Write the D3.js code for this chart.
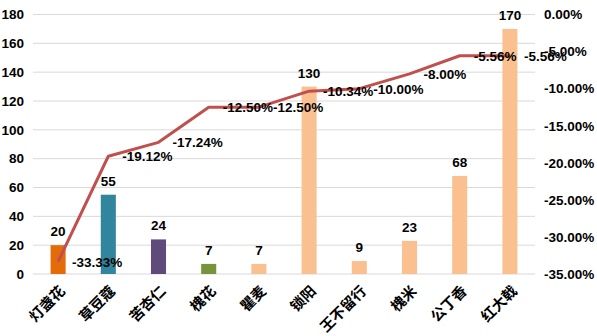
<!DOCTYPE html>
<html><head><meta charset="utf-8">
<script src="https://cdn.jsdelivr.net/npm/d3@7"></script>
<style>body{margin:0;background:#fff}svg{display:block}</style>
</head><body>
<svg id="c" width="597" height="336"></svg>
<script>
const categories = ["灯盏花","草豆蔻","苦杏仁","槐花","瞿麦","锁阳","王不留行","槐米","公丁香","红大戟"];
const counts = [20,55,24,7,7,130,9,23,68,170];
const pctValues = [-33.33,-19.12,-17.24,-12.50,-12.50,-10.34,-10.00,-8.00,-5.56,-5.56];
const barColors = ["#E36C09","#31859C","#604A7B","#77933C","#FAC090","#FAC090","#FAC090","#FAC090","#FAC090","#FAC090"];
const leftTicks = [0,20,40,60,80,100,120,140,160,180];
const rightTicks = [0,-5,-10,-15,-20,-25,-30,-35];

const svg = d3.select("#c");
const L = 33, R = 535, T = 14.5, B = 274;
const x = d3.scaleBand().domain(categories).range([L,R]).paddingInner(0.7).paddingOuter(0.35);
const xc = d3.scaleBand().domain(categories).range([L,R]);
const y = d3.scaleLinear().domain([0,180]).range([B,T]);
const y2 = d3.scaleLinear().domain([-35,0]).range([B,T]);
const font = "'Liberation Sans', Arial, sans-serif";
const pct = d => (d < 0 ? "-" : "") + Math.abs(d).toFixed(2) + "%";

// gridlines
svg.append("g").selectAll("line").data(leftTicks).join("line")
  .attr("x1",L).attr("x2",R).attr("y1",d=>y(d)).attr("y2",d=>y(d))
  .attr("stroke","#D9D9D9").attr("stroke-width",1);

// left axis
const ax = svg.append("g").attr("transform",`translate(${L},0)`)
  .call(d3.axisLeft(y).tickValues(leftTicks).tickSize(0).tickPadding(9));
ax.select(".domain").remove();
ax.selectAll("text").attr("font-family",font).attr("font-weight","bold").attr("font-size","13.5px").attr("fill","#000");

// right axis
const ax2 = svg.append("g").attr("transform",`translate(${R},0)`)
  .call(d3.axisRight(y2).tickValues(rightTicks).tickSize(0).tickPadding(9).tickFormat(pct));
ax2.select(".domain").remove();
ax2.selectAll("text").attr("font-family",font).attr("font-weight","bold").attr("font-size","13.5px").attr("fill","#000");

// bars
svg.append("g").selectAll("rect").data(counts).join("rect")
  .attr("x",(d,i)=>x(categories[i])).attr("width",x.bandwidth())
  .attr("y",d=>y(d)).attr("height",d=>B-y(d))
  .attr("fill",(d,i)=>barColors[i]);

// bar labels
svg.append("g").selectAll("text").data(counts).join("text")
  .attr("x",(d,i)=>x(categories[i])+x.bandwidth()/2).attr("y",d=>y(d)-9)
  .attr("text-anchor","middle").attr("font-family",font).attr("font-weight","bold").attr("font-size","13.5px")
  .text(d=>d);

// line
const cx = i => xc(categories[i]) + xc.bandwidth()/2;
svg.append("path").datum(pctValues)
  .attr("d", d3.line().x((d,i)=>cx(i)).y(d=>y2(d)))
  .attr("fill","none").attr("stroke","#C0504D").attr("stroke-width",3).attr("stroke-linejoin","round");

// line labels
svg.append("g").selectAll("text").data(pctValues).join("text")
  .attr("x",(d,i)=>cx(i)+14).attr("y",d=>y2(d)+5)
  .attr("font-family",font).attr("font-weight","bold").attr("font-size","13.5px")
  .text(pct);

// category labels
svg.append("g").selectAll("text").data(categories).join("text")
  .attr("transform",(d,i)=>`translate(${cx(i)+8},${292}) rotate(-45)`)
  .attr("text-anchor","end").attr("font-family","'Noto Sans CJK SC', sans-serif").attr("font-weight","bold").attr("font-size","14.5px")
  .text(d=>d);
</script>
</body></html>
